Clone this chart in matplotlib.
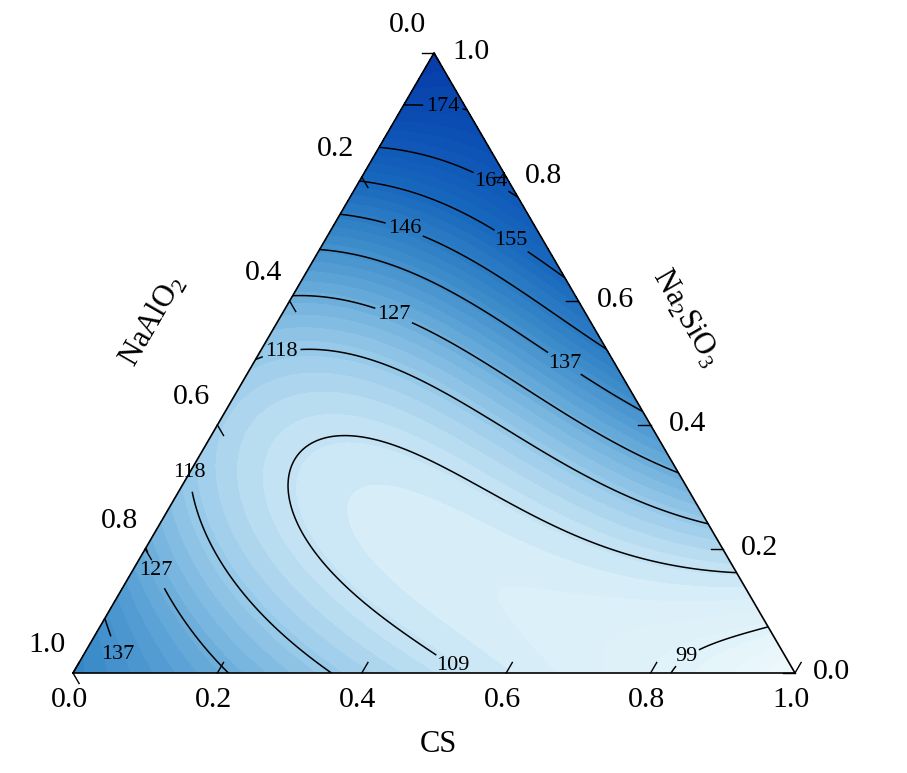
import numpy as np
import matplotlib
matplotlib.use('Agg')
import matplotlib.pyplot as plt
import matplotlib.tri as mtri
from matplotlib.colors import LinearSegmentedColormap

plt.rcParams['font.family'] = 'Liberation Serif'
plt.rcParams['mathtext.fontset'] = 'custom'
plt.rcParams['mathtext.rm'] = 'Liberation Serif'

# mixture model (Scheffe quartic), x1 = NaAlO2, x2 = CS, x3 = Na2SiO3
lin_coef = [141.60, 90.87, 181.82]
quad_coef = [-21.93, -176.07, 31.08]          # x1x2, x1x3, x2x3
cubic_coef = [-12.53, -24.96, 9.08]           # xixj(xi-xj)
quart_coef = [22.37, 140.35, -26.34]          # xixj(xi-xj)^2
mixed_coef = [-359.67, -236.80, -285.98]      # x1^2x2x3, x1x2^2x3, x1x2x3^2

levels = [99, 109, 118, 127, 137, 146, 155, 164, 174]
tick_vals = [0.0, 0.2, 0.4, 0.6, 0.8, 1.0]
tick_text = ['0.0', '0.2', '0.4', '0.6', '0.8', '1.0']

S3 = np.sqrt(3) / 2


def response(x1, x2, x3):
    pairs = [(x1, x2), (x1, x3), (x2, x3)]
    z = lin_coef[0] * x1 + lin_coef[1] * x2 + lin_coef[2] * x3
    for k, (a, b) in enumerate(pairs):
        z = z + quad_coef[k] * a * b
        z = z + cubic_coef[k] * a * b * (a - b)
        z = z + quart_coef[k] * a * b * (a - b) ** 2
    z = z + mixed_coef[0] * x1 ** 2 * x2 * x3
    z = z + mixed_coef[1] * x1 * x2 ** 2 * x3
    z = z + mixed_coef[2] * x1 * x2 * x3 ** 2
    return z


def px(p, q):
    # reference pixel -> data coords
    return ((p - 73) / 722.0, (673 - q) / 620.0 * S3)


n = 200
ii, jj = np.meshgrid(np.arange(n + 1), np.arange(n + 1))
m = ii + jj <= n
x2 = ii[m] / n
x3 = jj[m] / n
x1 = 1 - x2 - x3
Z = response(x1, x2, x3)
tri = mtri.Triangulation(x2 + x3 / 2, x3 * S3)

cmap = LinearSegmentedColormap.from_list('b', [
    (0, '#f0fafc'), (0.16, '#d7eef8'), (0.3, '#96c8e8'), (0.42, '#5fa5d7'),
    (0.54, '#3787c8'), (0.68, '#1969be'), (0.84, '#0c50b4'), (1, '#0537a5')])

fig = plt.figure(figsize=(9.07, 7.73), dpi=100)
ax = fig.add_axes([73 / 907, 100 / 773, 722 / 907, 620 / 773])
ax.tricontourf(tri, Z, levels=np.linspace(85, 190, 50), cmap=cmap,
               vmin=90, vmax=185, extend='both')
cs = ax.tricontour(tri, Z, levels=levels, colors='k', linewidths=1.1)

label_px = [(443, 105), (492, 180), (513, 238), (403, 233), (560, 370),
            (393, 317), (282, 355), (198, 472), (157, 570), (117, 655),
            (462, 652), (682, 650)]
ax.clabel(cs, manual=[px(*p) for p in label_px], inline=True,
          fontsize=16, fmt='%d', inline_spacing=3)
for t in cs.labelTexts:
    t.set_rotation(0)

ax.plot([0, 1, 0.5, 0], [0, 0, S3, 0], color='k', lw=1.2, clip_on=False)

L = 0.017
for v, s in zip(tick_vals, tick_text):
    # CS (bottom)
    ax.plot([v, v + 0.5 * L], [0, S3 * L], color='k', lw=1.0, clip_on=False)
    ax.annotate(s, (v, 0), xytext=(-4, -27), textcoords='offset pixels',
                ha='center', va='center', fontsize=21.5)
    # NaAlO2 (left)
    xl, yl = (1 - v) / 2, (1 - v) * S3
    ax.plot([xl, xl + 0.5 * L], [yl, yl - S3 * L], color='k', lw=1.0, clip_on=False)
    ax.annotate(s, (xl, yl), xytext=(-26, 28), textcoords='offset pixels',
                ha='center', va='center', fontsize=21.5)
    # Na2SiO3 (right)
    xr, yr = 1 - v / 2, v * S3
    ax.plot([xr, xr - L], [yr, yr], color='k', lw=1.0, clip_on=False)
    ax.annotate(s, (xr, yr), xytext=(37, 1), textcoords='offset pixels',
                ha='center', va='center', fontsize=21.5)

ax.set_xlim(0, 1)
ax.set_ylim(0, S3)
ax.axis('off')

fig.text(438 / 907, 1 - 745 / 773, 'CS', ha='center', va='center', fontsize=22)
fig.text(153 / 907, 1 - 321 / 773, r'NaAlO$_\mathrm{2}$', ha='center', va='center',
         fontsize=22, rotation=60, rotation_mode='anchor')
fig.text(686 / 907, 1 - 318 / 773, r'Na$_\mathrm{2}$SiO$_\mathrm{3}$', ha='center',
         va='center', fontsize=22, rotation=-60, rotation_mode='anchor')

fig.savefig('out.png')
